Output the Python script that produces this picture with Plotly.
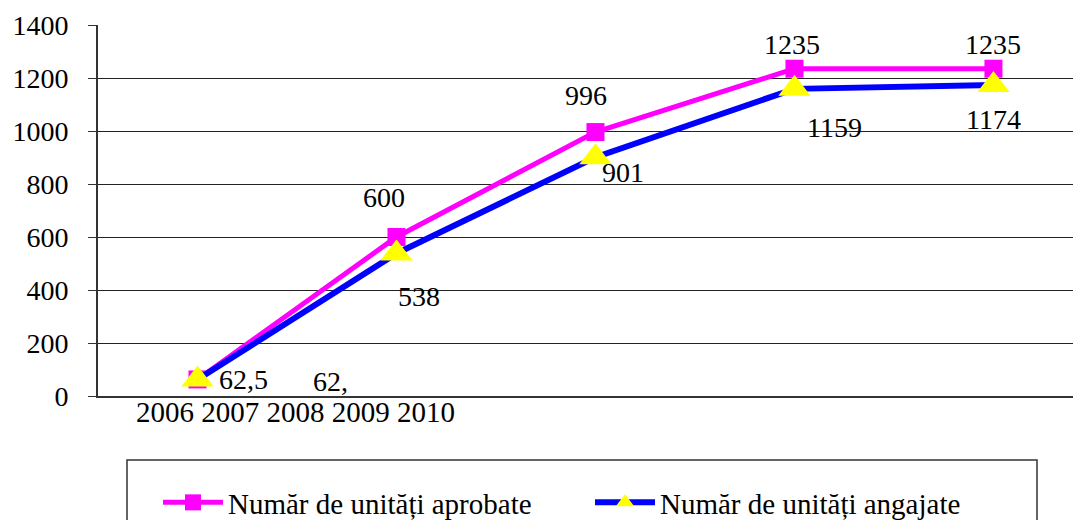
import plotly.graph_objects as go

years = ["2006", "2007", "2008", "2009", "2010"]
aprobate = [62.5, 600, 996, 1235, 1235]
angajate = [62, 538, 901, 1159, 1174]
aprobate_labels = ["62,5", "600", "996", "1235", "1235"]
angajate_labels = ["62,", "538", "901", "1159", "1174"]
y_ticks = [0, 200, 400, 600, 800, 1000, 1200, 1400]

FONT = "Liberation Serif"
x = list(range(len(years)))

fig = go.Figure()
fig.add_trace(go.Scatter(
    x=x, y=aprobate, mode="lines+markers", name="Număr de unități aprobate",
    line=dict(color="#FF00FF", width=5),
    marker=dict(symbol="square", size=18, color="#FF00FF"),
))
fig.add_trace(go.Scatter(
    x=x, y=angajate, mode="lines+markers", name="Număr de unități angajate",
    line=dict(color="#0000FF", width=6),
    marker=dict(symbol="triangle-up", size=28, color="#FFFF00", line=dict(width=0)),
))

pink_shift = [(46, 0), (-12, 40), (-9, 37), (-2, 24), (0, 24)]
blue_shift = [(133, -2), (23, -43), (28, -15), (40, -39), (0, -35)]
anns = []
for i in x:
    anns.append(dict(x=i, y=aprobate[i], text=aprobate_labels[i], showarrow=False,
                     xshift=pink_shift[i][0], yshift=pink_shift[i][1],
                     font=dict(family=FONT, size=28, color="black")))
    anns.append(dict(x=i, y=angajate[i], text=angajate_labels[i], showarrow=False,
                     xshift=blue_shift[i][0], yshift=blue_shift[i][1],
                     font=dict(family=FONT, size=28, color="black")))
anns.append(dict(x=(295 - 98) / 983, y=(396 - 412) / 371, xref="paper", yref="paper",
                 text=" ".join(years), showarrow=False, xanchor="center", yanchor="middle",
                 font=dict(family=FONT, size=29, color="black")))

fig.update_layout(
    width=1081, height=520,
    margin=dict(l=90, r=8, t=17, b=132, autoexpand=False),
    paper_bgcolor="white", plot_bgcolor="white",
    font=dict(family=FONT, size=28, color="black"),
    showlegend=True,
    legend=dict(orientation="h", x=(158 - 98) / 983, xanchor="left",
                y=(396 - 477) / 371, yanchor="top",
                font=dict(family=FONT, size=29, color="black"),
                bgcolor="rgba(0,0,0,0)", entrywidth=357, itemwidth=60),
    annotations=anns,
    shapes=[dict(type="rect", xref="paper", yref="paper",
                 x0=(127 - 98) / 983, x1=(1037 - 98) / 983,
                 y0=(396 - 540) / 371, y1=(396 - 460) / 371,
                 line=dict(color="#333333", width=1.5), fillcolor="rgba(0,0,0,0)")],
)
fig.update_xaxes(range=[-0.5, 4.44], tickvals=x, ticktext=["" for _ in x],
                 showgrid=False, showline=True, linecolor="#333333", linewidth=2,
                 ticks="", zeroline=False)
fig.update_yaxes(range=[0, 1400], tickvals=y_ticks, showgrid=True, gridcolor="#222222",
                 gridwidth=1, showline=True, linecolor="#333333", linewidth=2,
                 ticks="outside", ticklen=8, tickcolor="#333333", ticklabelstandoff=14,
                 tickfont=dict(family=FONT, size=28, color="black"), zeroline=False)
fig.write_html("out.html")
